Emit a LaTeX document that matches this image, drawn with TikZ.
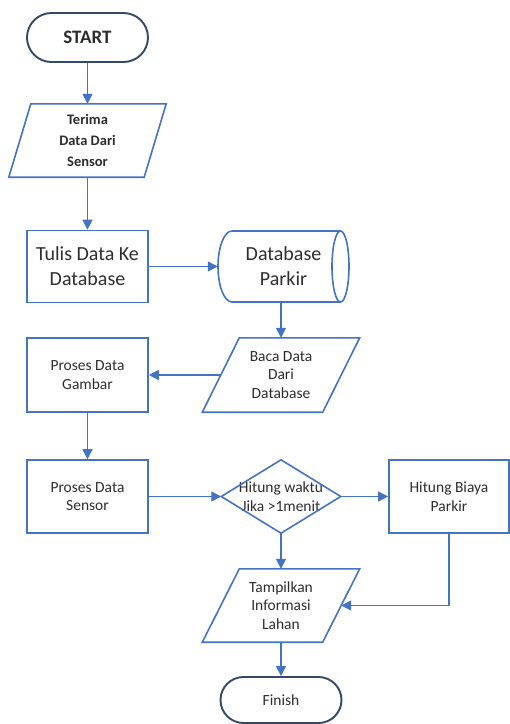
\documentclass[tikz,border=0pt]{standalone}
\usepackage{fontspec}
\setmainfont{Carlito}
\usetikzlibrary{arrows.meta}
\definecolor{boxblue}{RGB}{68,114,196}
\definecolor{termc}{RGB}{52,72,104}
\definecolor{txt}{RGB}{45,45,45}
\begin{document}
\begin{tikzpicture}[x=1pt,y=1pt,
  box/.style={draw=boxblue, line width=1.6pt, rectangle, align=center, text=txt, inner sep=0pt},
  termbox/.style={draw=termc, line width=1.9pt, rectangle, align=center, text=txt, inner sep=0pt},
  plain/.style={rectangle, align=center, text=txt, inner sep=0pt},
  outline/.style={draw=boxblue, line width=1.6pt, line join=miter},
  arr/.style={draw=boxblue, line width=1.3pt, -{Triangle[length=10pt,width=10pt]}},
  sm/.style={font=\fontsize{15.5}{18.5}\selectfont},
  lg/.style={font=\fontsize{20}{25}\selectfont}
]
\useasboundingbox (0,0) rectangle (510,-724);

% START
\node[termbox, minimum width=121pt, minimum height=49pt, rounded corners=24.5pt,
      font=\bfseries\fontsize{19}{22}\selectfont] (start) at (87.5,-37.5) {START};

% Terima Data Dari Sensor (parallelogram)
\node[plain, minimum width=135pt, minimum height=73pt,
      font=\bfseries\fontsize{14.5}{21}\selectfont] (terima) at (87.5,-140.5) {Terima\\Data Dari\\Sensor};
\draw[outline] ([xshift=11pt]terima.north west) -- ([xshift=11pt]terima.north east)
  -- ([xshift=-11pt]terima.south east) -- ([xshift=-11pt]terima.south west) -- cycle;

% Tulis Data Ke Database
\node[box, lg, minimum width=121pt, minimum height=72pt] (tulis) at (87.5,-266.5) {Tulis Data Ke\\Database};

% Database Parkir (stored data / cylinder)
\node[plain, lg, minimum width=131pt, minimum height=71pt] (db) at (283.5,-266.5) {Database\\Parkir};
\draw[outline] (232,-231) arc[start angle=90, end angle=270, x radius=14, y radius=35.5]
  -- (340.5,-302) arc[start angle=-90, end angle=90, x radius=8.5, y radius=35.5] -- cycle;
\draw[outline] (340.5,-231) arc[start angle=90, end angle=270, x radius=8.5, y radius=35.5];

% Baca Data Dari Database (parallelogram)
\node[plain, sm, minimum width=120pt, minimum height=74pt] (baca) at (281,-375) {Baca Data\\Dari\\Database};
\draw[outline] ([xshift=18.5pt]baca.north west) -- ([xshift=18.5pt]baca.north east)
  -- ([xshift=-18.5pt]baca.south east) -- ([xshift=-18.5pt]baca.south west) -- cycle;

% Proses Data Gambar
\node[box, sm, minimum width=121pt, minimum height=74pt] (gambar) at (87.5,-375) {Proses Data\\Gambar};

% Proses Data Sensor
\node[box, sm, minimum width=121pt, minimum height=73pt] (sensor) at (87.5,-496.5) {Proses Data\\Sensor};

% Decision diamond
\node[plain, sm, minimum width=119pt, minimum height=73pt] (dia) at (281,-496.5) {Hitung waktu\\Jika >1menit};
\draw[outline] (dia.west) -- (dia.north) -- (dia.east) -- (dia.south) -- cycle;

% Hitung Biaya Parkir
\node[box, sm, minimum width=120pt, minimum height=73pt] (biaya) at (449,-496.5) {Hitung Biaya\\Parkir};

% Tampilkan Informasi Lahan (parallelogram)
\node[plain, sm, minimum width=120pt, minimum height=73pt] (tampil) at (281,-605.5) {Tampilkan\\Informasi\\Lahan};
\draw[outline] ([xshift=18.5pt]tampil.north west) -- ([xshift=18.5pt]tampil.north east)
  -- ([xshift=-18.5pt]tampil.south east) -- ([xshift=-18.5pt]tampil.south west) -- cycle;

% Finish
\node[termbox, sm, minimum width=121pt, minimum height=46pt, rounded corners=23pt] (finish) at (281,-700) {Finish};

% Connectors
\draw[arr] (start.south) -- (terima.north);
\draw[arr] (terima.south) -- (tulis.north);
\draw[arr] (tulis.east) -- (db.west);
\draw[arr] (baca.north |- db.south) -- (baca.north);
\draw[arr] (baca.west) -- (gambar.east);
\draw[arr] (gambar.south) -- (sensor.north);
\draw[arr] (sensor.east) -- (dia.west);
\draw[arr] (dia.east) -- (biaya.west);
\draw[arr] (dia.south) -- (tampil.north);
\draw[arr] (biaya.south) |- (tampil.east);
\draw[arr] (tampil.south) -- (finish.north);
\end{tikzpicture}
\end{document}
